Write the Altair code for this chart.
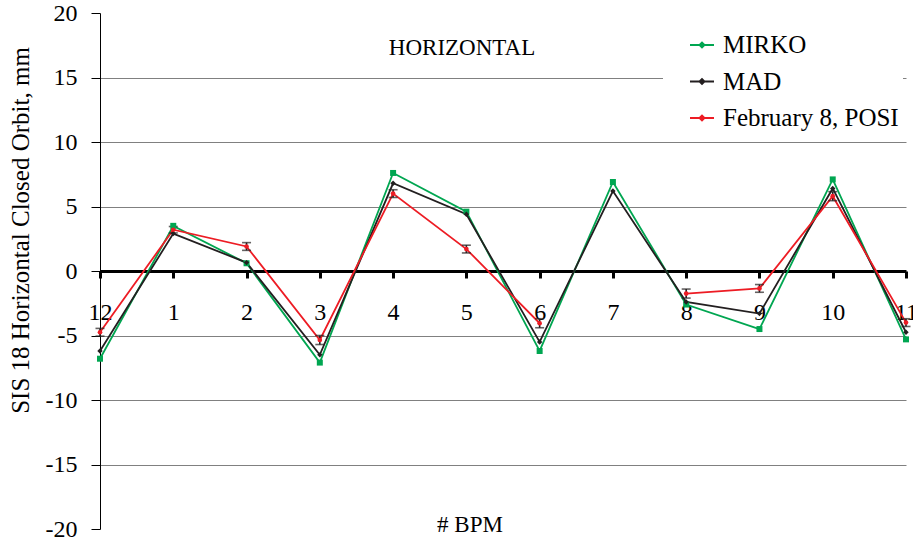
import altair as alt
import pandas as pd

categories = ["12", "1", "2", "3", "4", "5", "6", "7", "8", "9", "10", "11"]
series_names = ["MIRKO", "MAD", "February 8, POSI"]
mirko = [-6.8, 3.5, 0.6, -7.1, 7.6, 4.6, -6.2, 6.9, -2.6, -4.5, 7.1, -5.3]
mad = [-6.2, 2.9, 0.65, -6.5, 6.8, 4.4, -5.5, 6.2, -2.4, -3.3, 6.4, -4.75]
posi = [-4.75, 3.2, 1.9, -5.35, 6.0, 1.7, -4.05, None, -1.75, -1.35, 5.8, -4.0]
posi_err = [0.3, 0.25, 0.3, 0.35, 0.3, 0.3, 0.35, None, 0.35, 0.3, 0.35, 0.3]
y_ticks = [-20, -15, -10, -5, 0, 5, 10, 15, 20]

colors = ["#00a651", "#231f20", "#ed1c24"]
shapes = ["square", "diamond", "circle"]
sizes = [36, 22, 36]

rows = []
for name, vals in zip(series_names, [mirko, mad, posi]):
    for i, (c, v) in enumerate(zip(categories, vals)):
        rows.append({"bpm": c, "series": name, "value": v, "order": i})
df = pd.DataFrame(rows)

err = pd.DataFrame({"bpm": categories, "value": posi, "err": posi_err}).dropna()
err["lo"] = err["value"] - err["err"]
err["hi"] = err["value"] + err["err"]

FONT = "Times New Roman, Liberation Serif, serif"

x_enc = alt.X(
    "bpm:O",
    sort=categories,
    scale=alt.Scale(type="point", padding=0),
    axis=alt.Axis(
        orient="bottom", offset=-258, domainWidth=3, domainColor="black",
        tickColor="black", tickWidth=3, tickSize=7, labelFontSize=24,
        labelFont=FONT, labelColor="black", labelPadding=22, labelAngle=0,
        title=None, grid=False, labelOverlap=False, labelFlush=False,
        labelAlign="center",
    ),
)
y_scale = alt.Scale(domain=[-20, 20], nice=False, zero=False)
y_axis = alt.Axis(
    values=y_ticks, title="SIS 18 Horizontal Closed Orbit, mm",
    titleFont=FONT, titleFontSize=25, titleFontWeight="normal", titleColor="black",
    titleX=-80, titleY=217, titleAngle=270, titleAlign="center", titleBaseline="middle",
    labelFont=FONT, labelFontSize=24, labelColor="black", labelPadding=14,
    labelExpr="'' + datum.value",
    tickSize=9, tickColor="black", domainColor="black", domainWidth=1,
    grid=True, gridColor="#808080", gridWidth=1,
    gridOpacity={"condition": {"test": "abs(datum.value) >= 20 || datum.value == 0", "value": 0}, "value": 1},
)
y_enc = alt.Y("value:Q", scale=y_scale, axis=y_axis)

color_enc = alt.Color(
    "series:N",
    scale=alt.Scale(domain=series_names, range=colors),
    legend=alt.Legend(
        title=None, orient="none", legendX=563, legendY=15,
        fillColor="white", padding=4, symbolOffset=22,
        symbolType="M-1,0H1M-0.2,0L0,-0.2L0.2,0L0,0.2Z",
        symbolSize=576, symbolStrokeWidth=2,
        labelFont=FONT, labelFontSize=25, labelColor="black",
        labelOffset=8, rowPadding=10.5, labelLimit=400,
        labelExpr="datum.label + '\u00a0\u00a0\u00a0'",
    ),
)

lines = alt.Chart(df).mark_line(strokeWidth=1.8).encode(
    x=x_enc, y=y_enc, color=color_enc, order="order:Q"
)
points = alt.Chart(df).mark_point(filled=True, opacity=1).encode(
    x=x_enc, y=y_enc,
    color=alt.Color("series:N", scale=alt.Scale(domain=series_names, range=colors), legend=None),
    shape=alt.Shape("series:N", scale=alt.Scale(domain=series_names, range=shapes), legend=None),
    size=alt.Size("series:N", scale=alt.Scale(domain=series_names, range=sizes), legend=None),
)
err_x = alt.X("bpm:O", sort=categories)
err_rule = alt.Chart(err).mark_rule(color="#231f20", strokeWidth=1.6).encode(
    x=err_x, y=alt.Y("lo:Q", scale=y_scale, axis=y_axis), y2="hi:Q"
)
err_lo = alt.Chart(err).mark_tick(color="#231f20", thickness=1.6, size=9, orient="horizontal").encode(
    x=err_x, y=alt.Y("lo:Q", scale=y_scale, axis=y_axis)
)
err_hi = alt.Chart(err).mark_tick(color="#231f20", thickness=1.6, size=9, orient="horizontal").encode(
    x=err_x, y=alt.Y("hi:Q", scale=y_scale, axis=y_axis)
)

horiz = alt.Chart(pd.DataFrame({"t": ["HORIZONTAL"]})).mark_text(
    font=FONT, fontSize=23, color="black"
).encode(text="t:N", x=alt.value(362), y=alt.value(35))
bpm = alt.Chart(pd.DataFrame({"t": ["# BPM"]})).mark_text(
    font=FONT, fontSize=23, color="black"
).encode(text="t:N", x=alt.value(370), y=alt.value(512))

chart = alt.layer(lines, err_rule, err_lo, err_hi, points, horiz, bpm).resolve_scale(
    color="independent", shape="independent", size="independent"
).properties(
    width=806, height=516,
    autosize=alt.AutoSizeParams(type="none"),
    padding={"left": 100, "top": 13, "right": 7, "bottom": 15},
    background="white",
).configure_view(stroke=None)

chart.save("out.html", embed_options={"renderer": "svg", "actions": False})
